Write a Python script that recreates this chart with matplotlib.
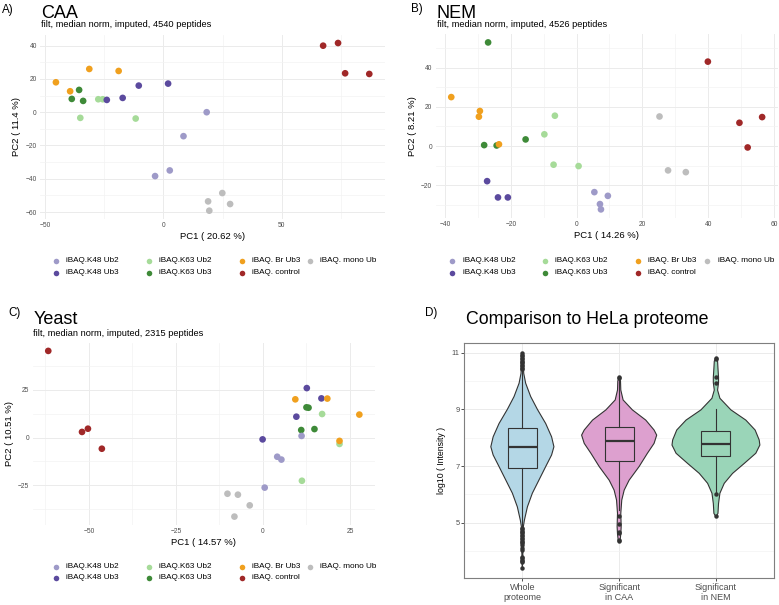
import matplotlib
matplotlib.use('Agg')
import matplotlib.pyplot as plt
import numpy as np

plt.rcParams['font.family'] = ['Liberation Sans', 'DejaVu Sans']
plt.rcParams['axes.unicode_minus'] = True

# ---------------- data ----------------
groups = ['iBAQ.K48 Ub2', 'iBAQ.K48 Ub3', 'iBAQ.K63 Ub2', 'iBAQ.K63 Ub3',
          'iBAQ. Br Ub3', 'iBAQ. control', 'iBAQ. mono Ub']
group_colors = ['#9E9AC8', '#5B4A9E', '#A6DB99', '#3E8A38',
                '#F0A01E', '#A02828', '#BDBDBD']

# CAA (group index, PC1, PC2)
caa_group = [0, 0, 0, 0, 2, 2, 2, 2, 1, 1, 1, 1, 3, 3, 3, 4, 4, 4, 4, 5, 5, 5, 5, 6, 6, 6, 6]
caa_pc1 = [18.3, 8.5, -3.5, 2.7, -35.1, -11.7, -27.5, -25.6, -23.9, -17.2, -10.4, 2.0,
           -35.6, -38.7, -33.9, -45.4, -39.4, -31.3, -18.9, 67.5, 73.8, 76.8, 87.0,
           24.9, 18.9, 19.4, 28.2]
caa_pc2 = [0.0, -14.4, -38.4, -35.0, -3.4, -3.8, 7.8, 7.8, 7.4, 8.6, 16.0, 17.2,
           13.4, 8.0, 6.8, 18.0, 12.6, 26.0, 24.8, 40.0, 41.6, 23.4, 23.0,
           -48.6, -53.6, -59.2, -55.2]

# NEM
nem_group = [0, 0, 0, 0, 1, 1, 1, 2, 2, 2, 2, 3, 3, 3, 3, 4, 4, 4, 4, 5, 5, 5, 5, 6, 6, 6]
nem_pc1 = [5.4, 9.5, 7.1, 7.4, -27.2, -23.9, -20.9, -6.6, -9.8, -7.0, 0.6,
           -26.9, -28.1, -24.3, -15.5, -38.1, -29.4, -29.7, -23.6,
           39.9, 49.5, 56.4, 52.0, 25.2, 27.8, 33.2]
nem_pc2 = [-23.5, -25.4, -29.6, -32.3, -17.9, -26.2, -26.2, 15.5, 6.0, -9.5, -10.2,
           52.9, 0.5, 0.3, 3.4, 25.0, 17.9, 15.0, 0.9,
           43.1, 11.9, 14.8, -0.7, 15.1, -12.4, -13.3]

# Yeast
yst_group = [5, 5, 5, 5, 2, 2, 2, 1, 1, 1, 1, 3, 3, 3, 3, 4, 4, 4, 4, 0, 0, 0, 0, 6, 6, 6, 6]
yst_pc1 = [-61.7, -52.0, -50.3, -46.3, 17.0, 22.0, 11.2, -0.1, 12.6, 16.8, 9.6,
           12.5, 13.1, 11.0, 14.8, 9.3, 18.5, 27.7, 22.0, 11.1, 4.1, 5.3, 0.5,
           -10.2, -7.2, -3.8, -8.2]
yst_pc2 = [45.5, 3.0, 4.7, -5.8, 12.4, -3.3, -22.6, -0.9, 26.0, 20.6, 11.0,
           15.9, 15.7, 4.0, 4.5, 20.1, 20.5, 12.1, -1.7, 0.9, -10.0, -11.5, -26.2,
           -29.4, -29.9, -35.5, -41.4]

# HeLa comparison (violin outlines: level, half width)
vio_names = ['Whole\nproteome', 'Significant\nin CAA', 'Significant\nin NEM']
vio_colors = ['#B4D7E6', '#DDA0CF', '#9AD5B8']
whole_lvl = [10.98, 10.7, 10.27, 9.92, 9.45, 9.0, 8.5, 8.03, 7.68, 7.39, 6.98, 6.51,
             6.04, 5.56, 5.09, 4.86, 4.4, 3.9, 3.39]
whole_hw = [0, .009, .014, .034, .086, .155, .241, .302, .326, .302, .241, .172,
            .103, .052, .021, .010, .007, .005, 0]
caa_lvl = [10.13, 10.0, 9.68, 9.33, 8.98, 8.62, 8.27, 8.09, 7.8, 7.45, 6.98, 6.5,
           6.15, 5.8, 5.33, 4.86, 4.6, 4.39, 4.33]
caa_hw = [0, .014, .017, .041, .137, .275, .361, .388, .361, .292, .206, .103,
          .052, .027, .017, .021, .017, .010, 0]
nem_lvl = [10.8, 10.7, 10.45, 10.13, 9.94, 9.68, 9.39, 8.98, 8.62, 8.27, 7.92, 7.74,
           7.45, 7.09, 6.74, 6.39, 6.04, 5.68, 5.33, 5.21]
nem_hw = [0, .017, .021, .027, .027, .017, .041, .155, .309, .405, .447, .454,
          .412, .292, .172, .086, .041, .027, .021, 0]
# box stats: whislo, q1, med, q3, whishi
box_whole = [4.86, 6.94, 7.66, 8.33, 10.38]
box_caa = [5.45, 7.19, 7.89, 8.36, 10.05]
box_nem = [6.05, 7.35, 7.78, 8.24, 9.0]
out_whole = [10.42, 10.47, 10.52, 10.57, 10.62, 10.67, 10.72, 10.77, 10.82, 10.87,
             10.92, 10.98, 4.82, 4.77, 4.72, 4.67, 4.62, 4.57, 4.52, 4.47, 4.42,
             4.37, 4.32, 4.27, 4.2, 4.1, 4.05, 3.8, 3.75, 3.7, 3.65, 3.6, 3.39]
out_caa = [10.1, 10.13, 5.24, 4.95, 4.67, 4.62, 4.39, 4.35]
out_nem = [10.8, 10.77, 10.13, 9.94, 6.0, 5.24]

# ---------------- figure ----------------
W, H = 779, 605
fig = plt.figure(figsize=(W / 100, H / 100), dpi=100)
fig.patch.set_facecolor('white')


def add_ax(l, r, t, b):
    return fig.add_axes([l / W, 1 - b / H, (r - l) / W, (b - t) / H])


TICK_C = '#4D4D4D'
GRID_MAJ = '#EBEBEB'
GRID_MIN = '#F3F3F3'


def style_min(ax, xt, yt, xm, ym, xlim, ylim, xlabel, ylabel):
    ax.set_xlim(*xlim)
    ax.set_ylim(*ylim)
    for s in ax.spines.values():
        s.set_visible(False)
    ax.set_xticks(xt)
    ax.set_yticks(yt)
    ax.set_xticks(xm, minor=True)
    ax.set_yticks(ym, minor=True)
    ax.grid(True, which='major', color=GRID_MAJ, lw=0.7)
    ax.grid(True, which='minor', color=GRID_MIN, lw=0.5)
    ax.set_axisbelow(True)
    ax.tick_params(which='both', length=0, labelsize=4.8, labelcolor=TICK_C, pad=2.5)
    ax.set_xlabel(xlabel, fontsize=6.8, labelpad=2)
    ax.set_ylabel(ylabel, fontsize=6.8, labelpad=3)


def scatter_pca(ax, g, x, y):
    cols = [group_colors[i] for i in g]
    ax.scatter(x, y, c=cols, s=23, linewidths=0, zorder=3)


axA = add_ax(40.3, 384.9, 34.7, 219)
scatter_pca(axA, caa_group, caa_pc1, caa_pc2)
style_min(axA, [-50, 0, 50], [-60, -40, -20, 0, 20, 40], [-25, 25, 75],
          [-50, -30, -10, 10, 30], (-52, 93.6), (-64.2, 46.6),
          'PC1 ( 20.62 %)', 'PC2 ( 11.4 %)')

axB = add_ax(435.8, 777.6, 34, 217.8)
scatter_pca(axB, nem_group, nem_pc1, nem_pc2)
style_min(axB, [-40, -20, 0, 20, 40, 60], [-20, 0, 20, 40], [-30, -10, 10, 30, 50],
          [-30, -10, 10, 30, 50], (-42.8, 61.1), (-36.6, 57.2),
          'PC1 ( 14.26 %)', 'PC2 ( 8.21 %)')

axC = add_ax(32.6, 375, 342.7, 524.8)
scatter_pca(axC, yst_group, yst_pc1, yst_pc2)
style_min(axC, [-50, -25, 0, 25], [-25, 0, 25], [-62.5, -37.5, -12.5, 12.5],
          [-37.5, -12.5, 12.5, 37.5], (-66.2, 32.2), (-45.7, 49.8),
          'PC1 ( 14.57 %)', 'PC2 ( 10.51 %)')

# Panel D
axD = add_ax(464.3, 774, 342.7, 578)
axD.set_xlim(0.4, 3.6)
axD.set_ylim(3.05, 11.35)
lvls = [whole_lvl, caa_lvl, nem_lvl]
hws = [whole_hw, caa_hw, nem_hw]
boxes = [box_whole, box_caa, box_nem]
outs = [out_whole, out_caa, out_nem]
EDGE = '#333333'
for i in range(3):
    pos = i + 1
    lv = np.array(lvls[i])
    hw = np.array(hws[i])
    xs = np.concatenate([pos + hw, (pos - hw)[::-1]])
    ys = np.concatenate([lv, lv[::-1]])
    axD.fill(xs, ys, facecolor=vio_colors[i], edgecolor=EDGE, lw=0.8, zorder=2,
             joinstyle='round')
    wl, q1, med, q3, wh = boxes[i]
    st = dict(whislo=wl, q1=q1, med=med, q3=q3, whishi=wh, fliers=outs[i])
    axD.bxp([st], positions=[pos], widths=0.3, showcaps=False, patch_artist=True,
            boxprops=dict(facecolor=vio_colors[i], edgecolor=EDGE, lw=0.8),
            whiskerprops=dict(color=EDGE, lw=0.8),
            medianprops=dict(color=EDGE, lw=1.6),
            flierprops=dict(marker='o', markerfacecolor=EDGE, markeredgecolor='none',
                            markersize=3.2),
            zorder=3)
axD.set_xticks([1, 2, 3])
axD.set_xticklabels(vio_names)
axD.set_yticks([5, 7, 9, 11])
axD.set_yticklabels(['5', '7', '9', '11'])
axD.set_yticks([4, 6, 8, 10], minor=True)
axD.grid(True, which='major', color=GRID_MAJ, lw=0.7)
axD.grid(True, which='minor', axis='y', color=GRID_MIN, lw=0.5)
axD.set_axisbelow(True)
for s in axD.spines.values():
    s.set_color('#7F7F7F')
    s.set_linewidth(0.8)
axD.tick_params(axis='y', which='major', length=2, width=0.6, color=EDGE,
                labelsize=5.4, labelcolor=TICK_C, pad=1.5)
axD.tick_params(axis='x', which='major', length=2, width=0.6, color=EDGE,
                labelsize=6.5, labelcolor=TICK_C, pad=1.5)
axD.tick_params(which='minor', length=0)
axD.set_ylabel('log10 ( Intensity )', fontsize=6.3, labelpad=4)

# overlay for titles and legends (pixel coordinates)
ov = fig.add_axes([0, 0, 1, 1])
ov.set_xlim(0, W)
ov.set_ylim(H, 0)
ov.axis('off')
ov.patch.set_alpha(0)

ov.text(2, 10, 'A)', fontsize=8.4, va='center', ha='left')
ov.text(40.7, 13, 'CAA', fontsize=13, va='center', ha='left')
ov.text(40.7, 24.5, 'filt, median norm, imputed, 4540 peptides', fontsize=6.7,
        va='center', ha='left')
ov.text(411, 9, 'B)', fontsize=8.4, va='center', ha='left')
ov.text(436.7, 13, 'NEM', fontsize=13, va='center', ha='left')
ov.text(436.7, 24.5, 'filt, median norm, imputed, 4526 peptides', fontsize=6.7,
        va='center', ha='left')
ov.text(8, 313, 'C)', fontsize=8.4, va='center', ha='left')
ov.text(33.3, 320, 'Yeast', fontsize=13, va='center', ha='left')
ov.text(33.3, 333.5, 'filt, median norm, imputed, 2315 peptides', fontsize=6.7,
        va='center', ha='left')
ov.text(425, 313, 'D)', fontsize=8.4, va='center', ha='left')
ov.text(466, 319.5, 'Comparison to HeLa proteome', fontsize=12.8, va='center',
        ha='left')


def legend(dot_x, rows_y):
    # column-major, 2 rows
    for k, name in enumerate(groups):
        col, row = k // 2, k % 2
        x, y = dot_x[col], rows_y[row]
        ov.scatter([x], [y], s=16, c=group_colors[k], linewidths=0)
        ov.text(x + 10.5, y, name, fontsize=5.9, va='center', ha='left')


legend([56, 149, 241.7, 310], [260.7, 272.7])
legend([452.3, 545, 637.7, 707.3], [261, 272.7])
legend([56, 149, 241.7, 310], [566.7, 577.7])

fig.savefig('out.png', dpi=100, facecolor='white')
